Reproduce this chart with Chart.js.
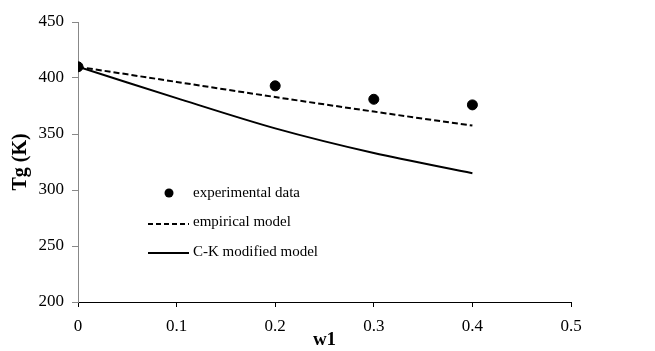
<!DOCTYPE html>
<html>
<head>
<meta charset="utf-8">
<script src="https://cdn.jsdelivr.net/npm/chart.js@4"></script>
<style>
  html, body { margin: 0; padding: 0; background: #fff; }
  #wrap { width: 655px; height: 351px; }
</style>
</head>
<body>
<div id="wrap"><canvas id="chart" width="655" height="351"></canvas></div>
<script>
const expW = [0, 0.2, 0.3, 0.4],
    expTg = [410, 393, 381, 376];

const modelW = [0, 0.1, 0.2, 0.3, 0.4],
    empiricalTg = [410, 396.5, 383, 370, 357.5],
    ckTg = [410, 382, 355, 333, 315];

const xTicks = [0, 0.1, 0.2, 0.3, 0.4, 0.5],
    yTicks = [200, 250, 300, 350, 400, 450];

const labels = ['experimental data', 'empirical model', 'C-K modified model'];

const pts = (xs, ys) => xs.map((x, i) => ({ x: x, y: ys[i] }));

const serif = "'Liberation Serif', 'Times New Roman', serif";

// legend drawn inside the plot, like the original
const innerLegend = {
    id: 'innerLegend',
    afterDraw(chart) {
        const c = chart.ctx;
        c.save();
        c.font = "15px " + serif;
        c.fillStyle = '#000';
        c.strokeStyle = '#000';
        c.textBaseline = 'middle';
        const lx = 148, tx = 193;
        // dot
        c.beginPath();
        c.arc(169, 193, 4.5, 0, Math.PI * 2);
        c.fill();
        c.fillText(labels[0], tx, 193);
        // dashed
        c.lineWidth = 2;
        c.setLineDash([5, 3]);
        c.beginPath();
        c.moveTo(lx, 224);
        c.lineTo(189, 224);
        c.stroke();
        c.setLineDash([]);
        c.fillText(labels[1], tx, 222);
        // solid
        c.beginPath();
        c.moveTo(lx, 253);
        c.lineTo(189, 253);
        c.stroke();
        c.fillText(labels[2], tx, 252);
        c.restore();
    }
};

new Chart(document.getElementById('chart').getContext('2d'), {
    type: 'scatter',
    data: {
        datasets: [
            {
                label: labels[0],
                data: pts(expW, expTg),
                backgroundColor: '#000',
                borderColor: '#000',
                pointRadius: 5,
                showLine: false
            },
            {
                label: labels[1],
                data: pts(modelW, empiricalTg),
                borderColor: '#000',
                borderWidth: 2,
                borderDash: [6, 3],
                pointRadius: 0,
                showLine: true,
                tension: 0.3
            },
            {
                label: labels[2],
                data: pts(modelW, ckTg),
                borderColor: '#000',
                borderWidth: 2,
                pointRadius: 0,
                showLine: true,
                tension: 0.3
            }
        ]
    },
    options: {
        responsive: false,
        animation: false,
        layout: { padding: { top: 22, right: 84, left: 9, bottom: 0 } },
        plugins: {
            legend: { display: false },
            tooltip: { enabled: false }
        },
        scales: {
            x: {
                type: 'linear',
                min: 0,
                max: 0.5,
                afterBuildTicks: s => { s.ticks = xTicks.map(v => ({ value: v })); },
                afterFit: s => { s.height = 49; },
                ticks: {
                    color: '#000',
                    font: { family: serif, size: 17 },
                    padding: 9,
                    callback: v => String(v)
                },
                grid: { drawOnChartArea: false, drawTicks: true, tickLength: 5, color: '#000' },
                border: { display: true, color: '#000', width: 1 },
                title: {
                    display: true,
                    text: 'w1',
                    color: '#000',
                    font: { family: serif, size: 19, weight: 'bold' },
                    padding: { top: 0, bottom: 0 }
                }
            },
            y: {
                min: 200,
                max: 450,
                afterBuildTicks: s => { s.ticks = yTicks.map(v => ({ value: v })); },
                afterFit: s => { s.width = 69; },
                ticks: {
                    color: '#000',
                    font: { family: serif, size: 17 },
                    padding: 8
                },
                grid: { drawOnChartArea: false, drawTicks: true, tickLength: 6, color: '#888' },
                border: { display: true, color: '#888', width: 1 },
                title: {
                    display: true,
                    text: 'Tg (K)',
                    color: '#000',
                    font: { family: serif, size: 20, weight: 'bold' },
                    padding: { top: 0, bottom: 2 }
                }
            }
        }
    },
    plugins: [innerLegend]
});
</script>
</body>
</html>
